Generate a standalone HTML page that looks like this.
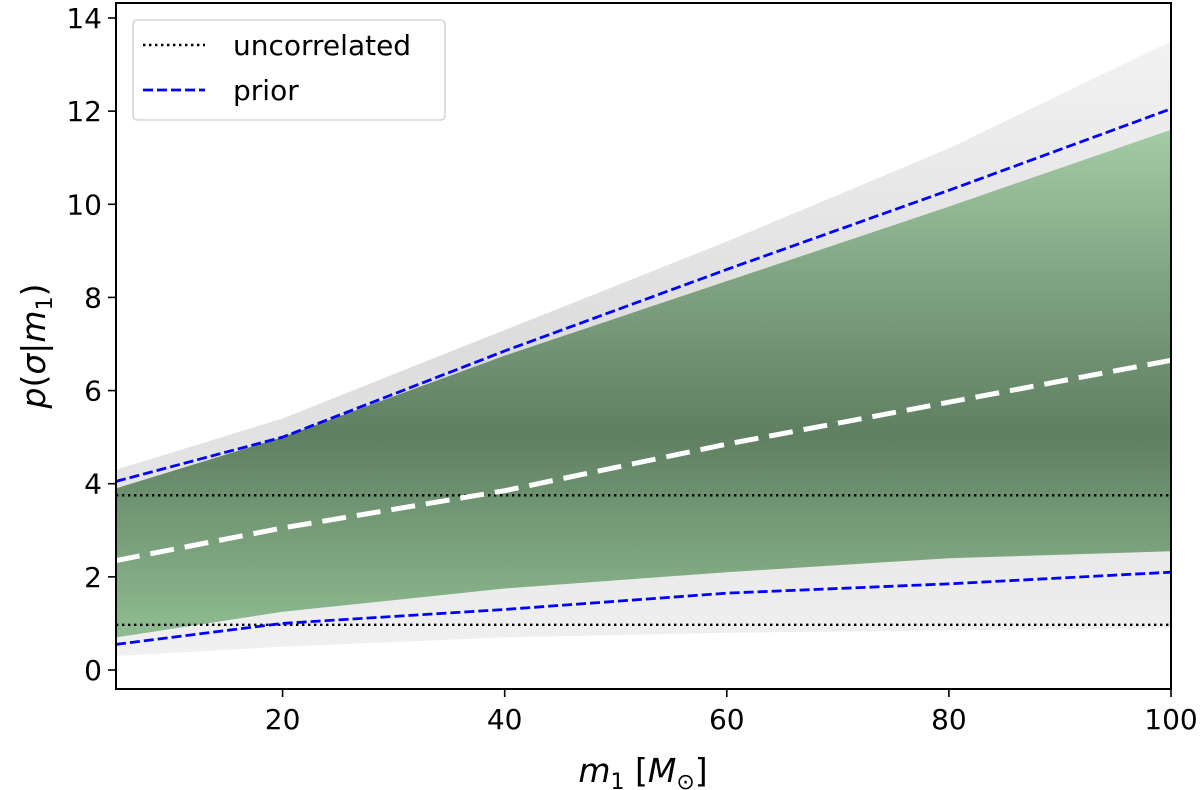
<!DOCTYPE html>
<html><head><meta charset="utf-8"><style>
body{margin:0;background:#fff}
svg{display:block;font-family:"DejaVu Sans","Liberation Sans",sans-serif}
</style></head><body>
<svg id="c" width="1200" height="790">
<defs>
<linearGradient id="gg" x1="0" y1="0" x2="0" y2="1">
<stop offset="0" stop-color="#a3cba5"/><stop offset="0.3" stop-color="#7fa381"/><stop offset="0.6" stop-color="#5f7f61"/><stop offset="1" stop-color="#8fbd91"/>
</linearGradient>
<linearGradient id="gr" x1="0" y1="0" x2="0" y2="1">
<stop offset="0" stop-color="#f2f2f2"/><stop offset="0.5" stop-color="#dcdcdc"/><stop offset="1" stop-color="#f0f0f0"/>
</linearGradient>
<clipPath id="clip"><rect x="116" y="3" width="1056" height="686"/></clipPath>
</defs>
</svg>
<script>
const xs=[5,20,40,60,80,100];
const priorUpper=[4.05,5.0,6.85,8.6,10.3,12.05];
const priorLower=[0.55,1.0,1.3,1.65,1.85,2.1];
const median=[2.35,3.05,3.85,4.85,5.75,6.65];
const bandUpper=[3.9,5.0,6.75,8.35,9.95,11.6];
const bandLower=[0.7,1.25,1.75,2.1,2.4,2.55];
const grayUpper=[4.3,5.4,7.3,9.2,11.2,13.5];
const grayLower=[0.3,0.5,0.7,0.8,0.85,0.9];
const uncorrelated=[3.75,0.97];
const xTicks=[20,40,60,80,100];
const yTicks=[0,2,4,6,8,10,12,14];
const X=v=>116+(v-5)*(1171-116)/95;
const Y=v=>670-v*(652/14);
const svg=document.getElementById('c');
const NS='http://www.w3.org/2000/svg';
function mk(t,a,p){const e=document.createElementNS(NS,t);for(const k in a)e.setAttribute(k,a[k]);(p||svg).appendChild(e);return e;}
const g=mk('g',{'clip-path':'url(#clip)'});


function band(up,lo,fill,op,name){
 let d='M'+xs.map((x,i)=>X(x)+','+Y(up[i])).join('L')+'L'+xs.slice().reverse().map((x,j)=>X(x)+','+Y(lo[xs.length-1-j])).join('L')+'Z';
 const p=mk('path',{d:d,fill:fill,'fill-opacity':op},g);
 
 
}
band(grayUpper,grayLower,'url(#gr)',1,'posterior-gray-band');
band(bandUpper,bandLower,'url(#gg)',1,'posterior-green-band');
function line(vals,color,w,dash,name){
 const p=mk('path',{d:'M'+xs.map((x,i)=>X(x)+','+Y(vals[i])).join('L'),fill:'none',stroke:color,'stroke-width':w,'stroke-dasharray':dash},g);
 
 
}
uncorrelated.forEach((u,i)=>{const l=mk('line',{x1:116,x2:1172,y1:Y(u),y2:Y(u),stroke:'#000','stroke-width':2.4,'stroke-dasharray':'2.4 3.6'},g);
 
 });
line(priorUpper,'#0000ff',2.8,'10 4','prior-upper');
line(priorLower,'#0000ff',2.8,'10 4','prior-lower');
line(median,'#ffffff',5,'24 11','median-line');
const fr=mk('rect',{x:116,y:3,width:1055,height:686,fill:'none',stroke:'#000','stroke-width':2});


xTicks.forEach(t=>{mk('line',{x1:X(t),x2:X(t),y1:689,y2:697,stroke:'#000','stroke-width':1.6});
 const tx=mk('text',{x:X(t),y:729,'font-size':28,'text-anchor':'middle'});tx.textContent=t;
 
 });
yTicks.forEach(t=>{mk('line',{x1:108,x2:116,y1:Y(t),y2:Y(t),stroke:'#000','stroke-width':1.6});
 const tx=mk('text',{x:102,y:Y(t)+10,'font-size':28,'text-anchor':'end'});tx.textContent=t;
 
 });
</script>
<svg style="position:absolute;left:0;top:0" width="1200" height="790">
<text x="643" y="782" font-size="33" text-anchor="middle" font-family="DejaVu Sans,sans-serif"><tspan font-style="italic">m</tspan><tspan font-size="22" dy="7">1</tspan><tspan dy="-7"> [</tspan><tspan font-style="italic">M</tspan><tspan font-size="22" dy="7">⊙</tspan><tspan dy="-7">]</tspan></text>
<text transform="translate(45,346) rotate(-90)" font-size="33" text-anchor="middle" font-family="DejaVu Sans,sans-serif"><tspan font-style="italic">p</tspan>(<tspan font-style="italic">σ</tspan>|<tspan font-style="italic">m</tspan><tspan font-size="22" dy="7">1</tspan><tspan dy="-7">)</tspan></text>
<g>
<rect x="133" y="20" width="312" height="100" rx="4" fill="#fff" fill-opacity="0.8" stroke="#ccc" stroke-width="1.3"/>
<line x1="143" x2="205" y1="45" y2="45" stroke="#000" stroke-width="2.4" stroke-dasharray="2.4 3.6"/>
<text x="233" y="55" font-size="28">uncorrelated</text>
<line x1="143" x2="205" y1="90" y2="90" stroke="#0000ff" stroke-width="2.8" stroke-dasharray="10 4"/>
<text x="233" y="100" font-size="28">prior</text>
</g>
</svg>
</body></html>
